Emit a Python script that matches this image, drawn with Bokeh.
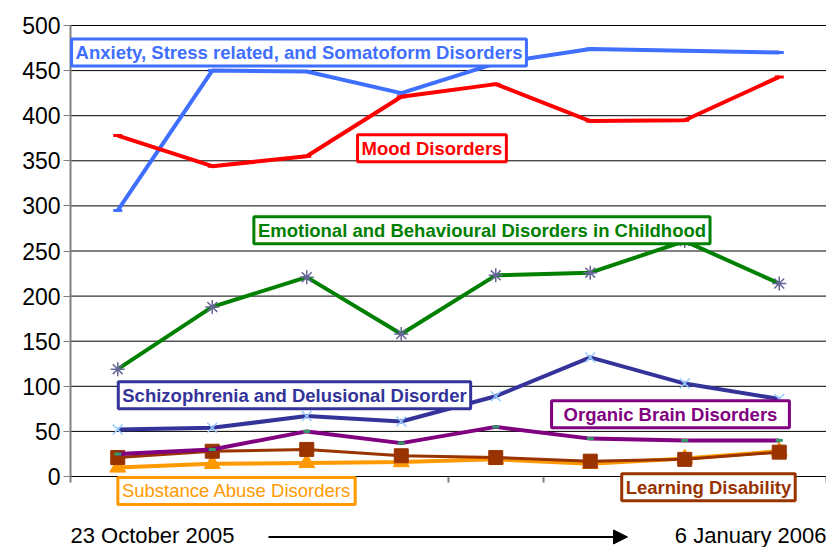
from bokeh.plotting import figure
from bokeh.models import FixedTicker, Label, Arrow, NormalHead
from bokeh.embed import file_html
from bokeh.resources import INLINE

# x positions: 8 weekly snapshots from 23 October 2005 to 6 January 2006
periods = [0.5, 1.5, 2.5, 3.5, 4.5, 5.5, 6.5, 7.5]

anxiety = [295, 450, 449, 425, 458, 474, 472, 470]
mood = [378, 344, 355, 421, 435, 394, 395, 443]
emotional = [119, 188, 221, 158, 223, 226, 261, 214]
schizophrenia = [52, 54, 67, 61, 89, 132, 103, 86]
organic = [25, 30, 50, 37, 55, 42, 40, 40]
learning = [21, 28, 30, 23, 21, 17, 19, 27]
substance = [10, 14, 15, 16, 19, 14, 20, 28]

y_ticks = [0, 50, 100, 150, 200, 250, 300, 350, 400, 450, 500]
x_bounds = [0, 1, 2, 3, 4, 5, 6, 7, 8]

FONT = "Liberation Sans"

# frame covers the whole canvas; axes are placed at data 0 with fixed_location
PX_X = 94.5   # pixels per period
PX_Y = 0.902  # pixels per unit
p = figure(width=826, height=547, output_backend="svg", toolbar_location=None,
           x_range=(-70 / PX_X, 8), y_range=(-71 / PX_Y, 500 + 25 / PX_Y),
           min_border=0)
p.outline_line_color = None
p.background_fill_color = "white"

p.yaxis.fixed_location = 0
p.yaxis.bounds = (0, 500)
p.yaxis.ticker = FixedTicker(ticks=y_ticks)
p.yaxis.major_label_text_font = FONT
p.yaxis.major_label_text_font_size = "23px"
p.yaxis.major_label_text_color = "black"
p.yaxis.axis_line_color = "#808080"
p.yaxis.axis_line_width = 2
p.yaxis.major_tick_line_color = "#808080"
p.yaxis.major_tick_out = 7
p.yaxis.major_tick_in = 0
p.yaxis.minor_tick_line_color = None
p.yaxis.major_label_standoff = 3

p.xaxis.fixed_location = 0
p.xaxis.bounds = (0, 8)
p.xaxis.ticker = FixedTicker(ticks=x_bounds)
p.xaxis.major_label_overrides = {i: "" for i in x_bounds}
p.xaxis.major_label_text_font_size = "1px"
p.xaxis.axis_line_color = "black"
p.xaxis.axis_line_width = 1
p.xaxis.major_tick_line_color = "#808080"
p.xaxis.major_tick_line_width = 2
p.xaxis.major_tick_out = 6
p.xaxis.major_tick_in = 0
p.xaxis.minor_tick_line_color = None

p.xgrid.grid_line_color = None
p.ygrid.grid_line_color = None
# horizontal gridlines from the axis to the right edge
p.segment(x0=[0] * len(y_ticks), y0=y_ticks, x1=[8] * len(y_ticks), y1=y_ticks,
          line_color="black", line_width=1)

# lines
p.line(periods, anxiety, line_color="#3F6FFF", line_width=4)
p.scatter(periods, anxiety, marker="dash", size=9, line_color="#3F6FFF", line_width=3)
p.line(periods, mood, line_color="#FF0000", line_width=4)
p.scatter(periods, mood, marker="dash", size=9, line_color="#FF0000", line_width=3)

p.line(periods, substance, line_color="#FF9900", line_width=4)
p.scatter(periods, substance, marker="triangle", size=16, fill_color="#FF9900", line_color="#FF9900")

p.line(periods, learning, line_color="#993300", line_width=3)
p.scatter(periods, learning, marker="square", size=14, fill_color="#993300", line_color="#993300")

p.line(periods, organic, line_color="#800080", line_width=4)
p.scatter(periods, organic, marker="dash", size=7, line_color="#339966", line_width=3)

p.line(periods, schizophrenia, line_color="#333399", line_width=4)
p.scatter(periods, schizophrenia, marker="x", size=14, line_color="#99CCFF", line_width=1.5)

p.line(periods, emotional, line_color="#008000", line_width=4)
p.scatter(periods, emotional, marker="asterisk", size=14, line_color="#666699", line_width=1.5)


def box_label(text, x, y, color, bold=True, size="18.5px", pad=(4, 3)):
    lab = Label(x=x, y=y, text=text, text_align="center", text_baseline="middle",
                text_font=FONT, text_font_size=size,
                text_font_style="bold" if bold else "normal",
                text_color=color, background_fill_color="white",
                border_line_color=color, border_line_width=3, padding=pad)
    p.add_layout(lab)


box_label("Anxiety, Stress related, and Somatoform Disorders", 2.418, 470, "#3F6FFF")
box_label("Mood Disorders", 3.825, 364, "#FF0000")
box_label("Emotional and Behavioural Disorders in Childhood", 4.354, 273, "#008000")
box_label("Schizophrenia and Delusional Disorder", 2.370, 90, "#333399")
box_label("Organic Brain Disorders", 6.349, 69, "#800080", pad=(12, 3))
box_label("Substance Abuse Disorders", 1.757, -16, "#FF9900", bold=False)
box_label("Learning Disability", 6.751, -12, "#993300")

p.add_layout(Label(x=0, y=-65, text="23 October 2005", text_align="left", text_baseline="middle",
                   text_font=FONT, text_font_size="22px", text_color="black"))
p.add_layout(Label(x=8, y=-65, text="6 January 2006", text_align="right", text_baseline="middle",
                   text_font=FONT, text_font_size="22px", text_color="black"))
p.add_layout(Arrow(x_start=(268 - 70) / PX_X, y_start=-67, x_end=(627 - 70) / PX_X, y_end=-67,
                   line_color="black", line_width=2,
                   end=NormalHead(size=14, fill_color="black", line_color="black")))

open("out.html", "w").write(file_html(p, INLINE))
